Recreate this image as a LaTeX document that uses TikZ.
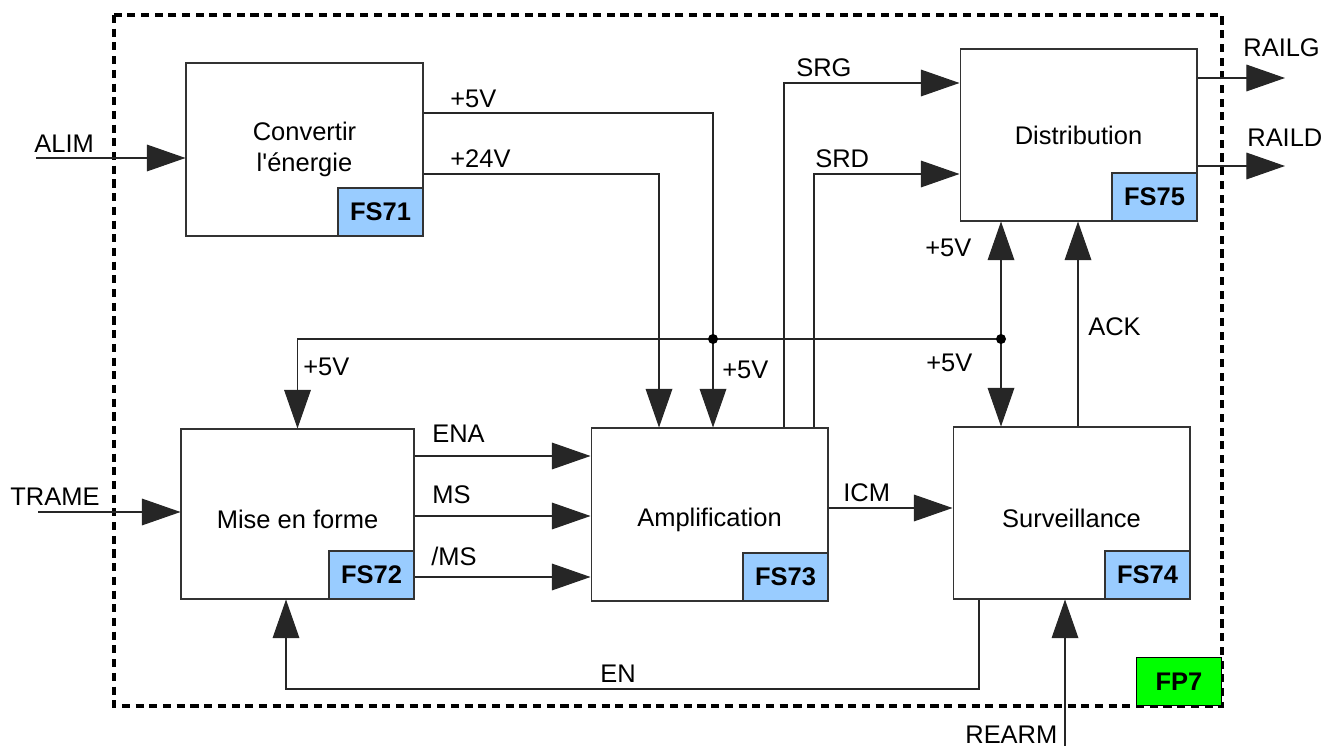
\documentclass[tikz,border=0pt]{standalone}
\usepackage{fontspec}
\newfontfamily\lsans{Liberation Sans}
\usetikzlibrary{arrows.meta}
\definecolor{fsblue}{HTML}{99CCFF}
\definecolor{fpgreen}{HTML}{00FF00}
\newcommand{\lowtxt}[1]{\raisebox{-3pt}[\height][\depth]{#1}}
\begin{document}
\begin{tikzpicture}[x=0.02cm,y=-0.02cm,
  every node/.style={font=\lsans\fontsize{14.5}{18}\selectfont},
  block/.style={draw=black!80,line width=0.6pt,align=center,inner sep=0pt},
  tag/.style={draw=black!80,fill=fsblue,line width=0.6pt,minimum width=1.7cm,minimum height=0.96cm,inner sep=0pt,anchor=south east,font=\lsans\bfseries\fontsize{14.5}{18}\selectfont},
  wire/.style={line width=0.6pt,draw=black!85},
  arr/.style={wire,-{Triangle[length=22pt,width=15.2pt]}},
  lbl/.style={anchor=base west,inner sep=0pt},
  dot/.style={fill=black}
]
\useasboundingbox (0,0) rectangle (1329,746);

% frame
\draw[line width=2.1pt,dash pattern=on 4.6pt off 3.2pt] (114,15) rectangle (1222,706);

% blocks
\node[block,minimum width=4.74cm,minimum height=3.46cm] (conv) at (304.5,149.5) {Convertir\\l'énergie};
\node[tag] (fs71) at (conv.south east) {FS71};
\node[block,minimum width=4.66cm,minimum height=3.40cm] (mef) at (297.5,514) {\lowtxt{Mise en forme}};
\node[tag] (fs72) at (mef.south east) {FS72};
\node[block,minimum width=4.74cm,minimum height=3.46cm] (amp) at (709.5,514.5) {\lowtxt{Amplification}};
\node[tag] (fs73) at (amp.south east) {FS73};
\node[block,minimum width=4.74cm,minimum height=3.44cm] (surv) at (1071.5,513) {\lowtxt{Surveillance}};
\node[tag] (fs74) at (surv.south east) {FS74};
\node[block,minimum width=4.74cm,minimum height=3.44cm] (dist) at (1078.5,135) {Distribution};
\node[tag] (fs75) at (dist.south east) {FS75};
\node[draw=black,fill=fpgreen,line width=0.6pt,minimum width=1.7cm,minimum height=0.96cm,anchor=south east,inner sep=0pt,font=\lsans\bfseries\fontsize{14.5}{18}\selectfont] (fp7) at (1222,706) {FP7};

% coordinates
\coordinate (j1) at (713,339);
\coordinate (j2) at (1001,339);
\coordinate (alim) at (36,158);
\coordinate (trame) at (38,512);
\coordinate (railg) at (1285,78);
\coordinate (raild) at (1285,166);
\coordinate (rearm) at (1065,746);

% connectors
\draw[arr] (alim) -- (alim -| conv.west);
\draw[arr] (conv.east |- 0,113) -| (j1) -- (j1 |- amp.north);
\draw[arr] (conv.east |- 0,174) -| (amp.north -| 659,0);
\draw[arr] (j2) -- (j1) -- (mef.north |- j1) -- (mef.north);
\draw[arr] (j2) -- (j2 |- dist.south);
\draw[arr] (j2) -- (j2 |- surv.north);
\draw[arr] (surv.north -| 1078,0) -- (dist.south -| 1078,0);
\draw[arr] (amp.north -| 784,0) |- (dist.west |- 0,83);
\draw[arr] (amp.north -| 814,0) |- (dist.west |- 0,174);
\draw[arr] (dist.east |- railg) -- (railg);
\draw[arr] (dist.east |- raild) -- (raild);
\draw[arr] (trame) -- (trame -| mef.west);
\draw[arr] (mef.east |- 0,456) -- (amp.west |- 0,456);
\draw[arr] (mef.east |- 0,516) -- (amp.west |- 0,516);
\draw[arr] (mef.east |- 0,577) -- (amp.west |- 0,577);
\draw[arr] (amp.east |- 0,508) -- (surv.west |- 0,508);
\draw[arr] (surv.south -| 979,0) -- (979,689) -- (286,689) -- (mef.south -| 286,0);
\draw[arr] (rearm) -- (rearm |- surv.south);

\fill[dot] (j1) circle[radius=0.1cm];
\fill[dot] (j2) circle[radius=0.1cm];

% labels
\node[lbl] (l_alim) at (34,153) {ALIM};
\node[lbl] (l_5a) at (450,108) {+5V};
\node[lbl] (l_24) at (450,168) {+24V};
\node[lbl] (l_srg) at (796,77) {SRG};
\node[lbl] (l_srd) at (815,168) {SRD};
\node[lbl] (l_railg) at (1243,57) {RAILG};
\node[lbl] (l_raild) at (1247,147) {RAILD};
\node[lbl] (l_5b) at (925,257) {+5V};
\node[lbl] (l_ack) at (1088,336) {ACK};
\node[lbl] (l_5c) at (926,372) {+5V};
\node[lbl] (l_5d) at (722,379) {+5V};
\node[lbl] (l_5e) at (303,376) {+5V};
\node[lbl] (l_ena) at (432,443) {ENA};
\node[lbl] (l_ms) at (432,503) {MS};
\node[lbl] (l_nms) at (431,565) {/MS};
\node[lbl] (l_icm) at (843,501) {ICM};
\node[lbl] (l_en) at (600,682) {EN};
\node[lbl] (l_trame) at (10,505) {TRAME};
\node[lbl] (l_rearm) at (965,743) {REARM};
\end{tikzpicture}
\end{document}
